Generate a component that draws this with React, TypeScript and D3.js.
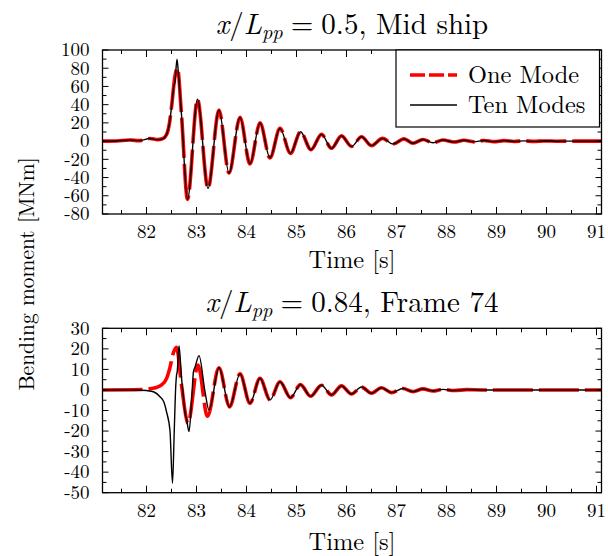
import React from 'react';
import * as d3 from 'd3';

type Pt = [number, number];

// ---------- data ----------
const timeTickLabels = [82, 83, 84, 85, 86, 87, 88, 89, 90, 91];
const midShipYTickLabels = [-80, -60, -40, -20, 0, 20, 40, 60, 80, 100];
const frame74YTickLabels = [-50, -40, -30, -20, -10, 0, 10, 20, 30];
const seriesNames = ['One Mode', 'Ten Modes'];

// x/Lpp = 0.5, Mid ship
const midShipOneModeStart: Pt[] = [
  [81.12, 0], [81.4, 0.2], [81.67, 1.2], [81.85, 0.5], [82.07, 2.8], [82.22, 1.6],
  [82.32, 2.5], [82.4, 7], [82.46, 20], [82.51, 42], [82.56, 68], [82.62, 80], [82.7, 29],
];
const midShipTenModesStart: Pt[] = [
  [81.12, 0], [81.4, 0.2], [81.67, 1.2], [81.85, 0.5], [82.07, 2.8], [82.22, 1.6],
  [82.32, 2.5], [82.4, 7], [82.46, 20], [82.51, 42], [82.545, 60], [82.57, 65],
  [82.61, 90], [82.64, 73], [82.7, 29],
];
const midShipDecay: Pt[] = [
  [82.82, -64], [83.02, 46], [83.23, -52], [83.45, 34], [83.65, -35], [83.87, 26],
  [84.07, -25], [84.27, 20], [84.47, -18.5], [84.67, 14], [84.88, -13.5], [85.08, 10.3],
  [85.29, -9.5], [85.5, 7.4], [85.7, -7.9], [85.9, 5.7], [86.1, -5.8], [86.3, 4.8],
  [86.5, -5.0], [86.72, 3.0], [86.93, -3.2], [87.15, 2.5], [87.33, -2.4], [87.53, 1.8],
  [87.73, -1.8], [87.93, 1.2], [88.15, -1.0], [88.35, 0.9], [88.55, -0.8], [88.75, 0.7],
  [88.95, -0.6], [89.15, 0.5], [89.35, -0.4], [89.55, 0.3], [89.75, -0.3], [89.95, 0.2],
  [90.2, -0.1], [90.5, 0], [91.1, 0],
];

// x/Lpp = 0.84, Frame 74
const frame74OneModeStart: Pt[] = [
  [81.12, 0], [81.9, 0.2], [82.1, 0.7], [82.22, 1.4], [82.3, 2.5], [82.4, 5.5],
  [82.47, 11], [82.53, 17.5], [82.6, 20.8], [82.7, 2.4], [82.83, -16.2], [83.03, 12.1],
  [83.22, -12.8],
];
const frame74TenModesStart: Pt[] = [
  [81.12, 0], [81.8, 0], [82.0, -0.3], [82.15, -1], [82.27, -3.3], [82.35, -6],
  [82.4, -10.6], [82.47, -20], [82.52, -45.4], [82.555, -20], [82.585, 2], [82.6, 7],
  [82.615, 9], [82.65, 21.5], [82.7, 6], [82.735, -3], [82.77, -11], [82.8, -14],
  [82.85, -20.3], [82.9, -6], [82.94, 9], [82.97, 11], [83.05, 16.7], [83.17, -0.8],
  [83.25, -9.8],
];
const frame74Decay: Pt[] = [
  [83.45, 10.8], [83.66, -8.3], [83.87, 7.8], [84.07, -6.5], [84.27, 5.7], [84.47, -4.9],
  [84.67, 4.0], [84.88, -3.8], [85.08, 2.6], [85.28, -3.1], [85.5, 2.3], [85.7, -2.4],
  [85.9, 2.0], [86.1, -2.0], [86.3, 1.4], [86.5, -1.6], [86.7, 1.1], [86.9, -1.3],
  [87.13, 0.7], [87.33, -0.8], [87.53, 0.5], [87.73, -0.5], [87.93, 0.3], [88.15, -0.3],
  [88.4, 0.15], [88.7, 0], [91.1, 0],
];

// ---------- layout ----------
const W = 608;
const H = 556;
const X0 = 102.5;
const X1 = 601.5;
const FONT = 'Latin Modern Roman';
const RED = '#ff0000';
const DASH = '40,6';
const LEGEND_DASH = '15,4';
const TITLE_SIZE = 29;
const LABEL_SIZE = 24.4;
const YLABEL_SIZE = 21.5;
const TICK_SIZE = 19;

const xScale = d3.scaleLinear().domain([81.12, 91.1]).range([X0, X1]);

interface PanelProps {
  top: number;
  bottom: number;
  yDomain: [number, number];
  yLabels: number[];
  yMinorStep: number;
  oneMode: Pt[];
  tenModes: Pt[];
  titleValue: string;
  titleRest: string;
  titleBaseline: number;
  timeBaseline: number;
  legend: boolean;
  clipId: string;
}

function Panel(p: PanelProps) {
  const y = d3.scaleLinear().domain(p.yDomain).range([p.bottom, p.top]);
  const line = d3
    .line<Pt>()
    .x((d) => xScale(d[0]))
    .y((d) => y(d[1]))
    .curve(d3.curveMonotoneX);
  const xMinor = d3.range(81.5, 91.01, 0.5).filter((t) => !timeTickLabels.includes(t));
  const yMinor = d3
    .range(p.yDomain[0], p.yDomain[1] + 0.001, p.yMinorStep)
    .filter((v) => !p.yLabels.includes(v));
  const cx = (X0 + X1) / 2;
  const majX = 7, minX = 4, majY = 6, minY = 4;
  const sp = TITLE_SIZE * 0.2778;
  return (
    <g>
      <defs>
        <clipPath id={p.clipId}>
          <rect x={X0} y={p.top} width={X1 - X0} height={p.bottom - p.top} />
        </clipPath>
      </defs>
      {/* title */}
      <text x={cx} y={p.titleBaseline} textAnchor="middle" fontFamily={FONT} fontSize={TITLE_SIZE} fill="#000">
        <tspan fontStyle="italic">x</tspan>
        <tspan>/</tspan>
        <tspan fontStyle="italic">L</tspan>
        <tspan fontStyle="italic" fontSize={TITLE_SIZE * 0.7} dy={5}>pp</tspan>
        <tspan dy={-5} dx={sp}>=</tspan>
        <tspan dx={sp}>{p.titleValue}</tspan>
        <tspan dx={TITLE_SIZE * 0.33}>{p.titleRest}</tspan>
      </text>
      {/* curves */}
      <g clipPath={`url(#${p.clipId})`}>
        <path d={line(p.oneMode) || ''} fill="none" stroke={RED} strokeWidth={3.6} strokeDasharray={DASH} />
        <path d={line(p.tenModes) || ''} fill="none" stroke="#000" strokeWidth={1.4} />
      </g>
      {/* ticks */}
      <g stroke="#000" strokeWidth={1}>
        {timeTickLabels.map((t) => (
          <g key={`xm${t}`}>
            <line x1={xScale(t)} x2={xScale(t)} y1={p.bottom} y2={p.bottom - majX} />
            <line x1={xScale(t)} x2={xScale(t)} y1={p.top} y2={p.top + majX} />
          </g>
        ))}
        {xMinor.map((t) => (
          <g key={`xn${t}`}>
            <line x1={xScale(t)} x2={xScale(t)} y1={p.bottom} y2={p.bottom - minX} />
            <line x1={xScale(t)} x2={xScale(t)} y1={p.top} y2={p.top + minX} />
          </g>
        ))}
        {p.yLabels.map((v) => (
          <g key={`ym${v}`}>
            <line x1={X0} x2={X0 + majY} y1={y(v)} y2={y(v)} />
            <line x1={X1} x2={X1 - majY} y1={y(v)} y2={y(v)} />
          </g>
        ))}
        {yMinor.map((v) => (
          <g key={`yn${v}`}>
            <line x1={X0} x2={X0 + minY} y1={y(v)} y2={y(v)} />
            <line x1={X1} x2={X1 - minY} y1={y(v)} y2={y(v)} />
          </g>
        ))}
      </g>
      {/* frame */}
      <rect x={X0} y={p.top} width={X1 - X0} height={p.bottom - p.top} fill="none" stroke="#000" strokeWidth={1.3} />
      {/* tick labels */}
      <g fontFamily={FONT} fontSize={TICK_SIZE} fill="#000">
        {timeTickLabels.map((t) => (
          <text key={`xl${t}`} x={xScale(t)} y={p.bottom + 24} textAnchor="middle">{t}</text>
        ))}
        {p.yLabels.map((v) => (
          <text key={`yl${v}`} x={89.5} y={y(v) + 6.3} textAnchor="end">{v}</text>
        ))}
      </g>
      <text x={cx} y={p.timeBaseline} textAnchor="middle" fontFamily={FONT} fontSize={LABEL_SIZE} fill="#000">Time [s]</text>
      {p.legend && (
        <g>
          <rect x={396} y={p.top} width={203.5} height={77} fill="#fff" stroke="#000" strokeWidth={1.2} />
          <line x1={410} x2={457} y1={p.top + 25} y2={p.top + 25} stroke={RED} strokeWidth={3.6} strokeDasharray={LEGEND_DASH} />
          <line x1={410} x2={457} y1={p.top + 55} y2={p.top + 55} stroke="#000" strokeWidth={1.4} />
          <text x={468} y={p.top + 33} fontFamily={FONT} fontSize={LABEL_SIZE} fill="#000">{seriesNames[0]}</text>
          <text x={468} y={p.top + 63} fontFamily={FONT} fontSize={LABEL_SIZE} fill="#000">{seriesNames[1]}</text>
        </g>
      )}
    </g>
  );
}

export default function App() {
  return (
    <svg width={W} height={H} viewBox={`0 0 ${W} ${H}`} style={{ position: 'absolute', left: 0, top: 0, background: '#fff' }}>
      <rect x={0} y={0} width={W} height={H} fill="#fff" />
      <Panel
        top={50}
        bottom={214}
        yDomain={[-80, 100]}
        yLabels={midShipYTickLabels}
        yMinorStep={10}
        oneMode={[...midShipOneModeStart, ...midShipDecay]}
        tenModes={[...midShipTenModesStart, ...midShipDecay]}
        titleValue="0.5,"
        titleRest="Mid ship"
        titleBaseline={33.5}
        timeBaseline={268}
        legend={true}
        clipId="clipTop"
      />
      <Panel
        top={328.3}
        bottom={492.7}
        yDomain={[-50, 30]}
        yLabels={frame74YTickLabels}
        yMinorStep={5}
        oneMode={[...frame74OneModeStart, ...frame74Decay]}
        tenModes={[...frame74TenModesStart, ...frame74Decay]}
        titleValue="0.84,"
        titleRest="Frame 74"
        titleBaseline={312}
        timeBaseline={550}
        legend={false}
        clipId="clipBottom"
      />
      <text
        transform="translate(34,274) rotate(-90)"
        textAnchor="middle"
        fontFamily={FONT}
        fontSize={YLABEL_SIZE}
        fill="#000"
      >
        Bending moment [MNm]
      </text>
    </svg>
  );
}
